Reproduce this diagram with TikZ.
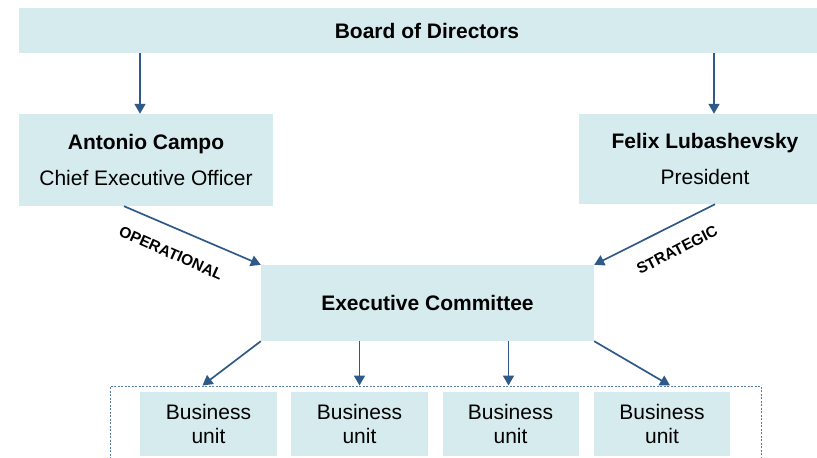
\documentclass[tikz,border=0pt]{standalone}
\usepackage{fontspec}
\setmainfont{Liberation Sans}
\usetikzlibrary{arrows.meta}
\definecolor{boxfill}{RGB}{213,235,238}
\definecolor{arrowblue}{RGB}{47,90,135}
\definecolor{dotblue}{RGB}{90,125,165}
\tikzset{
  box/.style={fill=boxfill, draw=none, inner sep=0pt, align=center, font=\fontsize{21}{36}\selectfont},
  unitbox/.style={box, minimum height=64pt, font=\fontsize{21}{24.5}\selectfont},
  arr/.style={draw=arrowblue, line width=1.7pt, -{Triangle[length=10pt,width=11pt]}},
  flowlabel/.style={font=\bfseries\fontsize{15.5}{17}\selectfont, inner sep=0pt},
  grp/.style={draw=dotblue, line width=1pt, dash pattern=on 2pt off 1.5pt, fill=none, inner sep=0pt}
}
\begin{document}
\begin{tikzpicture}[x=1pt,y=-1pt]
\useasboundingbox (0,0) rectangle (817,458);
% boxes
\node[box, minimum width=816pt, minimum height=45pt] (board) at (427,30.5) {\textbf{Board of Directors}};
\node[box, minimum width=254pt, minimum height=92pt] (antonio) at (146,160) {\textbf{Antonio Campo}\\Chief Executive Officer};
\node[box, minimum width=252pt, minimum height=90pt] (felix) at (705,159) {\textbf{Felix Lubashevsky}\\President};
\node[box, minimum width=333pt, minimum height=76pt] (exec) at (427.5,303) {\textbf{Executive Committee}};
\node[grp, minimum width=651pt, minimum height=90pt] (group) at (435.5,431) {};
\node[unitbox, minimum width=137pt] (bu1) at (208.5,424) {Business\\unit};
\node[unitbox, minimum width=137pt] (bu2) at (359.5,424) {Business\\unit};
\node[unitbox, minimum width=136pt] (bu3) at (510.5,424) {Business\\unit};
\node[unitbox, minimum width=136pt] (bu4) at (662,424) {Business\\unit};
% arrows
\draw[arr] ([xshift=-6pt]antonio.north |- board.south) -- ([xshift=-6pt]antonio.north);
\draw[arr] ([xshift=9pt]felix.north |- board.south) -- ([xshift=9pt]felix.north);
\draw[arr] ([xshift=-22pt]antonio.south) -- (exec.north west);
\draw[arr] ([xshift=10pt]felix.south) -- (exec.north east);
\draw[arr] (exec.south west) -- ([xshift=-6pt]bu1.north |- group.north);
\draw[arr] (exec.south -| bu2.north) -- (bu2.north |- group.north);
\draw[arr] ([xshift=-2pt]exec.south -| bu3.north) -- ([xshift=-2pt]bu3.north |- group.north);
\draw[arr] (exec.south east) -- ([xshift=8pt]bu4.north |- group.north);
% labels
\node[flowlabel, rotate=-24] (oplabel) at (171,253) {OPERATIONAL};
\node[flowlabel, rotate=27] (stlabel) at (677,250) {STRATEGIC};
\end{tikzpicture}
\end{document}
